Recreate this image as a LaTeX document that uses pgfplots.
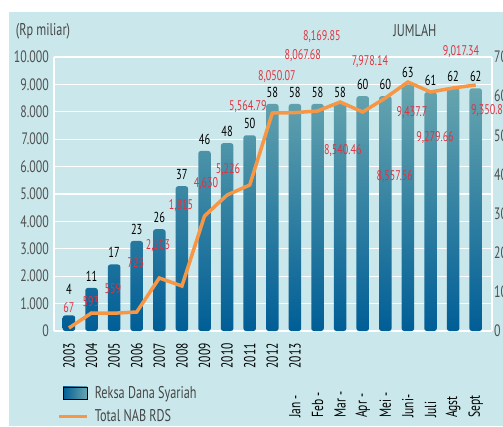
\documentclass[border=0pt]{standalone}
\usepackage{pgfplots}
\usepackage{pgfplotstable}
\pgfplotsset{compat=1.18}
\usepackage{fontspec}
\setmainfont{PT Sans}[FakeStretch=0.72]
\definecolor{bg}{RGB}{202,232,235}
\definecolor{bartop}{RGB}{104,166,175}
\definecolor{barmid}{RGB}{0,132,168}
\definecolor{barbot}{RGB}{0,94,150}
\definecolor{nab}{RGB}{247,151,70}
\definecolor{lab}{RGB}{224,50,64}
\definecolor{tickc}{RGB}{80,80,80}
\definecolor{legc}{RGB}{70,70,70}

\pgfplotstableread{
x n off
0 4 17
1 11 3
2 17 3
3 23 3
4 26 3
5 37 3
6 46 3
7 48 3
8 50 3
9 58 3
10 58 3
11 58 3
12 58 3
13 60 3
14 60 3
15 63 3
16 61 3
17 62 3
18 62 3
}\bars

\pgfplotstableread{
x v
0 110
1 657
2 650
3 693
4 1934
5 1642
6 4197
7 4964
8 5328
9 7956
10 7970
11 8029
12 8358
13 7993
14 8504
15 9088
16 8723
17 8869
18 8978
}\nab

\tikzset{rl/.style={font=\fontsize{14}{16}\selectfont, text=lab, inner sep=0pt}}
\pgfplotsset{base/.style={at={(0,0)},anchor=south west,scale only axis,width=438pt,height=274pt,
  xmin=-0.66,xmax=18.72,major tick length=0pt,tick style={draw=none},
  scaled y ticks=false, scaled x ticks=false,
  /pgf/number format/assume math mode=true}}

\begin{document}
\begin{tikzpicture}[x=1pt,y=1pt]
\useasboundingbox (-54,-95) rectangle (449,331);
\clip (-54,-95) rectangle (449,331);
\fill[white] (-54,-95) rectangle (449,331);
\fill[bg] (-45,-95) rectangle (449,319);

% grid, left axis, year labels
\begin{axis}[base, ymin=0, ymax=10000,
  axis x line*=bottom, axis y line*=left,
  axis line style={white,line width=2pt},
  ymajorgrids, grid style={white,line width=1.3pt},
  ytick={0,1000,...,10000},
  yticklabels={0,1.000,2.000,3.000,4.000,5.000,6.000,7.000,8.000,9.000,10.000},
  yticklabel style={font=\fontsize{16.5}{18}\selectfont, text=tickc, inner sep=0pt},
  yticklabel shift=5pt,
  xtick={0,1,2,3,4,5,6,7,8,9,10},
  xticklabels={2003,2004,2005,2006,2007,2008,2009,2010,2011,2012,2013},
  xticklabel style={rotate=90, anchor=east, font=\fontsize{16}{18}\selectfont, text=black, inner sep=0pt},
  xticklabel shift=12pt]
\end{axis}

% bars, right axis
\begin{axis}[base, ymin=0, ymax=70,
  axis y line*=right, axis x line=none,
  axis line style={white,line width=2pt},
  ytick={0,10,...,70},
  yticklabel style={font=\fontsize{16.5}{18}\selectfont, text=tickc, inner sep=0pt, anchor=west},
  yticklabel shift=2pt]
\addplot[ybar, bar width=12.5pt, draw=none, top color=bartop, middle color=barmid,
  bottom color=barbot, rounded corners=2.5pt] table[x=x,y=n]{\bars};
\addplot[draw=none, mark=none, nodes near coords, point meta=y,
  visualization depends on={\thisrow{off}\as\myoff},
  every node near coord/.append style={font=\fontsize{14.5}{16}\selectfont, text=black,
    anchor=south, yshift=\myoff pt},
  nodes near coords={\pgfmathprintnumber[assume math mode=true]{\pgfplotspointmeta}}]
  table[x=x,y=n]{\bars};
\end{axis}

% line, month labels, annotations, legend
\begin{axis}[base, ymin=0, ymax=10000, clip=false,
  axis line style={draw=none}, ytick=\empty,
  xtick={10,11,12,13,14,15,16,17,18},
  xticklabels={Jan -,Feb -,Mar -,Apr -,Mei -,Juni-,Juli,Agst,Sept},
  xticklabel style={rotate=90, anchor=west, font=\fontsize{16}{18}\selectfont, text=black, inner sep=0pt},
  xticklabel shift=87pt,
  legend cell align=left,
  legend style={draw=none, fill=none, at={(axis description cs:0.007,-0.193)}, anchor=north west,
    inner sep=0pt, row sep=6pt, font=\fontsize{17}{19}\selectfont, text=legc,
    nodes={inner xsep=6pt}}]
\addlegendimage{legend image code/.code={\shade[left color=barbot,right color=bartop] (4pt,-6pt) rectangle (28pt,6pt);}}
\addlegendentry{Reksa Dana Syariah}
\addplot[nab, line width=3.5pt, mark=none,
  legend image code/.code={\draw[nab,line width=3.5pt] (0pt,0pt)--(28pt,0pt);}]
  table[x=x,y=v]{\nab};
\addlegendentry{Total NAB RDS}
\node[rl] at (axis cs:0,840) {67};
\node[rl] at (axis cs:0.97,1059) {593};
\node[rl] at (axis cs:1.95,1533) {559};
\node[rl] at (axis cs:2.96,2482) {723};
\node[rl] at (axis cs:3.94,3103) {2,203};
\node[rl] at (axis cs:4.96,4563) {1,815};
\node[rl] at (axis cs:6.06,5366) {4,630};
\node[rl] at (axis cs:7.04,5877) {5,226};
\node[rl] at (axis cs:7.92,8176) {5,564.79};
\node[rl] at (axis cs:9.2,9271) {8,050.07};
\node[rl] at (axis cs:10.35,10038) {8,067.68};
\node[rl] at (axis cs:11.19,10731) {8,169.85};
\node[rl] at (axis cs:12.12,6570) {8,540.46};
\node[rl] at (axis cs:13.32,9819) {7,978.14};
\node[rl] at (axis cs:14.42,5621) {8,557.56};
\node[rl] at (axis cs:15.18,7957) {9,437.7};
\node[rl] at (axis cs:16.2,7045) {9,279.66};
\node[rl] at (axis cs:17.35,10184) {9,017.34};
\node[rl] at (axis cs:18.5,8030) {9,350.8};
\node[font=\fontsize{17}{19}\selectfont, text=legc] at (axis description cs:-0.025,1.095) {(Rp miliar)};
\node[font=\fontsize{17}{19}\selectfont, text=legc] at (axis description cs:0.824,1.095) {JUMLAH};
\end{axis}
\end{tikzpicture}
\end{document}
